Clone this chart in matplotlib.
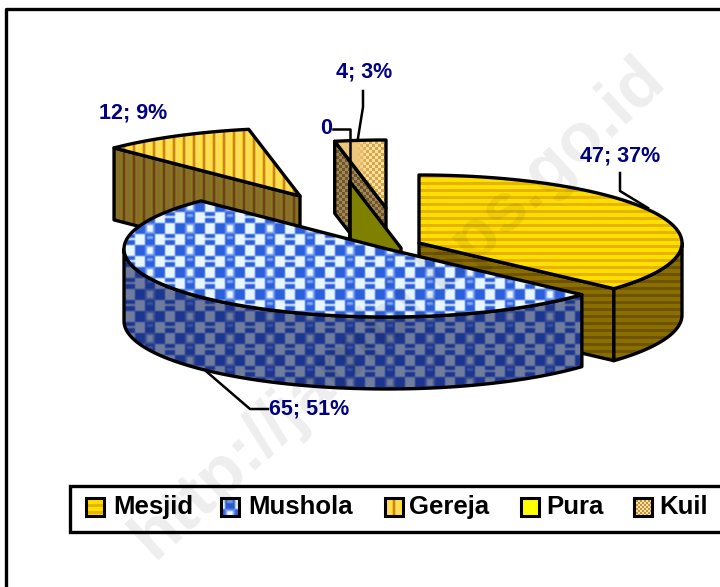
import numpy as np
import matplotlib
matplotlib.use("Agg")
import matplotlib.pyplot as plt
from matplotlib.patches import Polygon, Rectangle

categories = ["Mesjid", "Mushola", "Gereja", "Pura", "Kuil"]
values = [47, 65, 12, 0, 4]
point_labels = ["47; 37%", "65; 51%", "12; 9%", "0", "4; 3%"]

W, H = 720, 587
RX, RY, DEPTH = 263, 68, 72
# every slice is pulled out on its own, pixel centre of each top face
centers = [(419, 243), (387, 249), (300, 196), (401, 248), (386, 208)]

NAVY = "#000080"
FONT = "Liberation Sans"

plt.rcParams["font.family"] = [FONT, "DejaVu Sans"]


def rgb(hexcol):
    return np.array(matplotlib.colors.to_rgb(hexcol))


def soften(img):
    out = img.copy()
    for axis in (0, 1):
        out = (np.roll(out, 1, axis) + 2 * out + np.roll(out, -1, axis)) / 4
    return out


def stripes_h(c1, c2, period=7):
    y = np.arange(H) % period
    img = np.zeros((H, W, 3))
    img[:] = rgb(c1)
    img[y < 3] = rgb(c2)
    return img


def stripes_v(c1, c2, c3, period=10):
    x = np.arange(W) % period
    img = np.zeros((H, W, 3))
    img[:] = rgb(c1)
    img[:, (x >= 3) & (x < 5)] = rgb(c3)
    img[:, x >= 7] = rgb(c2)
    return soften(img)


def checks(c1, c2, size=3):
    yy, xx = np.mgrid[0:H, 0:W]
    img = np.zeros((H, W, 3))
    img[:] = rgb(c1)
    img[((xx // size) + (yy // size)) % 2 == 0] = rgb(c2)
    return img


def bubbles(light, blue, ring, high):
    # 4 x 2 cell tile: bubble light bars light / ring blue light blue
    yy, xx = np.mgrid[0:H, 0:W]
    col = ((xx - 305) % 40) // 10
    row = ((yy - 256) % 22) // 11
    u = (xx - 305) % 10
    v = (yy - 256) % 11
    img = np.zeros((H, W, 3))
    img[:] = rgb(light)
    bubble = (col == 0) & (row == 0)
    img[bubble] = rgb(blue)
    img[bubble & (v >= 2) & (v < 5) & (u >= 2) & (u < 8)] = rgb(high)
    bars = (col == 2) & (row == 0)
    img[bars & ((v < 4) | (v >= 6))] = rgb(blue)
    ring_cell = (col == 0) & (row == 1)
    img[ring_cell] = rgb(ring)
    img[ring_cell & (u >= 2) & (u < 8) & (v >= 2) & (v < 9)] = rgb(light)
    img[(row == 1) & (col % 2 == 1)] = rgb(blue)
    return soften(img)


kuil_top = checks("#F8E2A4", "#D9A545")
xx_left = np.clip((368 - np.arange(W)) / 12.0, 0, 1)[None, :, None]
kuil_top = kuil_top * (1 - xx_left) + rgb("#EDC67C") * xx_left

top_tex = {
    0: stripes_h("#FFDF00", "#E6B400"),
    1: bubbles("#E8F6FF", "#2C5FDC", "#6E96EA", "#7FA6F0"),
    2: stripes_v("#FFE828", "#FFD870", "#BE5C30"),
    4: kuil_top,
}
wall_tex = {
    0: stripes_h("#8A6E00", "#6E5400"),
    1: bubbles("#6F7C9E", "#1C3690", "#3F5290", "#3A50A0"),
    2: stripes_v("#857A18", "#8A6A30", "#6A2A22"),
    4: checks("#A08850", "#6E5430"),
}
legend_kuil = checks("#F8E2A4", "#C8903A", size=2)

fig = plt.figure(figsize=(W / 100, H / 100), dpi=100)
ax = fig.add_axes([0, 0, 1, 1])
ax.set_xlim(0, W)
ax.set_ylim(H, 0)
ax.axis("off")

bounds = np.cumsum([0] + values) * 360.0 / sum(values)
z = [2]


def pt(c, deg, drop=0):
    a = np.radians(deg)
    return c[0] + RX * np.sin(a), c[1] - RY * np.cos(a) + drop


def arc(c, a0, a1, drop=0):
    n = max(int(abs(a1 - a0)) + 2, 2)
    return [pt(c, a, drop) for a in np.linspace(a0, a1, n)]


def draw_face(points, tex=None, color=None):
    z[0] += 1
    if tex is not None:
        patch = Polygon(points, closed=True, transform=ax.transData, fill=False, lw=0)
        ax.add_patch(patch)
        im = ax.imshow(tex, extent=(0, W, H, 0), aspect="auto", zorder=z[0],
                       interpolation="bilinear")
        im.set_clip_path(patch)
        fc = "none"
    else:
        fc = color
    ax.add_patch(Polygon(points, closed=True, fc=fc, ec="black", lw=2.4,
                         joinstyle="round", zorder=z[0] + 0.5))


def draw_top(i):
    c = centers[i]
    draw_face([c] + arc(c, bounds[i], bounds[i + 1]), tex=top_tex[i])


def draw_radial_wall(i, deg, tex=None, color=None):
    c = centers[i]
    draw_face([c, pt(c, deg), pt(c, deg, DEPTH), (c[0], c[1] + DEPTH)], tex=tex, color=color)


def draw_outer_wall(i, a0, a1):
    c = centers[i]
    draw_face(arc(c, a0, a1) + arc(c, a1, a0, DEPTH), tex=wall_tex[i])


# back to front
draw_radial_wall(4, bounds[4], tex=wall_tex[4])
draw_top(4)
draw_radial_wall(2, bounds[2], tex=wall_tex[2])
draw_top(2)
draw_radial_wall(3, bounds[3], color="#808000")
draw_radial_wall(0, bounds[1], tex=wall_tex[0])
draw_outer_wall(0, 90, bounds[1])
draw_top(0)
draw_outer_wall(1, bounds[1], 270)
draw_top(1)

# leader lines
leaders = [
    [(620, 173), (620, 191), (648, 208)],
    [(268, 409), (250, 409), (207, 372)],
    [(333, 129), (350, 129), (350, 237)],
    [(363, 91), (363, 107), (358, 138)],
]
for line in leaders:
    xs, ys = zip(*line)
    ax.plot(xs, ys, color="black", lw=1.8, zorder=50)

label_pos = [(620, 156), (309.5, 409), (133.5, 113), (326, 129), (364, 72)]
for txt, (x, y) in zip(point_labels, label_pos):
    ax.text(x, y, txt, color=NAVY, fontsize=15.5, fontweight="bold",
            ha="center", va="center", zorder=60)

# outer frame runs off the right and bottom of the picture
ax.plot([6, 6, W + 5], [H + 5, 9, 9], color="black", lw=2.4, zorder=70)

# legend
ax.add_patch(Rectangle((69.5, 486), W, 45.5, fc="white", ec="black", lw=2.4, zorder=70))
swatch_x = [86, 221, 385, 521, 634]
text_x = [113, 248, 409, 546, 659]
swatch_tex = [top_tex[0], top_tex[1], top_tex[2], None, legend_kuil]
for name, sx, tx, tex in zip(categories, swatch_x, text_x, swatch_tex):
    corners = [(sx, 497.5), (sx + 18, 497.5), (sx + 18, 515.5), (sx, 515.5)]
    patch = Polygon(corners, closed=True, transform=ax.transData, fill=False, lw=0)
    ax.add_patch(patch)
    if tex is None:
        ax.add_patch(Polygon(corners, closed=True, fc="#FFFF00", ec="black", lw=2.2, zorder=72))
    else:
        im = ax.imshow(tex, extent=(0, W, H, 0), aspect="auto", zorder=71)
        im.set_clip_path(patch)
        ax.add_patch(Polygon(corners, closed=True, fc="none", ec="black", lw=2.2, zorder=72))
    ax.text(tx, 507, name, color="black", fontsize=18.5, fontweight="bold",
            ha="left", va="center", zorder=73)

ax.set_xlim(0, W)
ax.set_ylim(H, 0)

# watermark sits over everything
ax.text(398, 308, "http://jambi.bps.go.id", color="black", alpha=0.07, fontsize=50,
        fontweight="bold", rotation=43, rotation_mode="anchor", ha="center", va="center",
        zorder=100)

fig.savefig("out.png", dpi=100)
